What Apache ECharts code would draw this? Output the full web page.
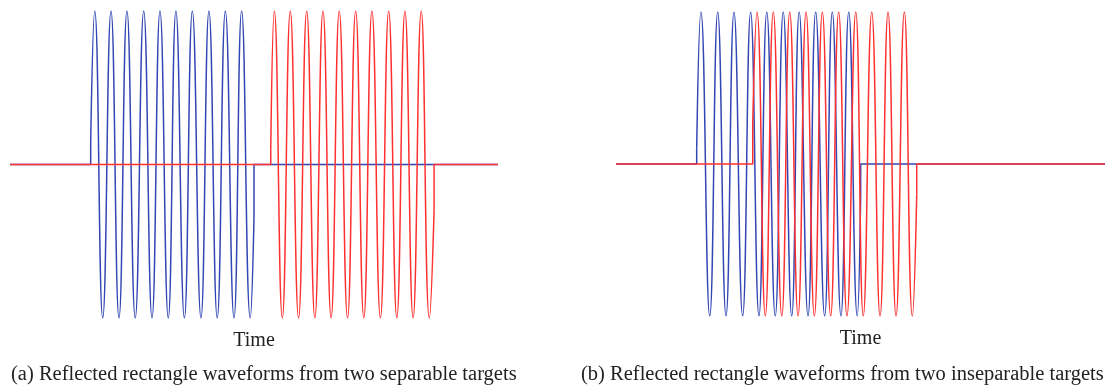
<!DOCTYPE html>
<html>
<head>
<meta charset="utf-8">
<script src="https://cdn.jsdelivr.net/npm/echarts@6/dist/echarts.min.js"></script>
<style>
  html, body { margin: 0; padding: 0; background: #ffffff; }
  #chart { width: 1108px; height: 387px; }
</style>
</head>
<body>
<div id="chart"></div>
<script>
// Time axis range (arbitrary units, ~1 unit per carrier period)
const timeRange = [0, 30];
const axisName = 'Time';
const captionA = '(a) Reflected rectangle waveforms from two separable targets';
const captionB = '(b) Reflected rectangle waveforms from two inseparable targets';

// Panel (a): extremes of each burst [time, amplitude]
const blueBurstA = [[4.96,0.14],[5.21,1],[5.70,-1],[6.21,1],[6.70,-1],[7.19,1],[7.70,-1],[8.22,1],[8.73,-1],[9.22,1],[9.73,-1],[10.20,1],[10.72,-1],[11.21,1],[11.74,-1],[12.23,1],[12.74,-1],[13.24,1],[13.77,-1],[14.24,1],[14.77,-1],[15.00,-0.35]];
const redBurstA = [[16.03,0.10],[16.25,1],[16.74,-1],[17.23,1],[17.74,-1],[18.24,1],[18.74,-1],[19.24,1],[19.74,-1],[20.24,1],[20.75,-1],[21.25,1],[21.75,-1],[22.25,1],[22.77,-1],[23.28,1],[23.78,-1],[24.28,1],[24.78,-1],[25.28,1],[25.78,-1],[26.07,-0.30]];

// Panel (b)
const blueBurstB = [[4.95,0.10],[5.21,1],[5.75,-1],[6.24,1],[6.75,-1],[7.24,1],[7.77,-1],[8.26,1],[8.77,-1],[9.25,1],[9.77,-1],[10.26,1],[10.78,-1],[11.24,1],[11.78,-1],[12.25,1],[12.80,-1],[13.27,1],[13.80,-1],[14.28,1],[14.80,-1],[15.01,-0.20]];
const redBurstB = [[8.39,0.27],[8.65,1],[9.16,-1],[9.65,1],[10.17,-1],[10.66,1],[11.17,-1],[11.66,1],[12.17,-1],[12.66,1],[13.17,-1],[13.66,1],[14.17,-1],[14.71,1],[15.17,-1],[15.69,1],[16.20,-1],[16.69,1],[17.18,-1],[17.69,1],[18.18,-1],[18.45,-0.20]];

const BLUE = '#3347b3';
const RED = '#ff3030';
const LW = 1.5;

function baseline(burst) {
  const s = burst[0], e = burst[burst.length - 1];
  return [[timeRange[0], 0], [s[0], 0], [s[0], s[1]], null, [e[0], e[1]], [e[0], 0], [timeRange[1], 0]].map(p => p === null ? '-' : p);
}

function makeSeries(burst, color, idx, z) {
  return [
    { type: 'line', xAxisIndex: idx, yAxisIndex: idx, data: baseline(burst), showSymbol: false, smooth: false,
      connectNulls: false, lineStyle: { color: color, width: LW }, itemStyle: { color: color }, z: z, silent: true },
    { type: 'line', xAxisIndex: idx, yAxisIndex: idx, data: burst, showSymbol: false, smooth: 0.5,
      lineStyle: { color: color, width: LW }, itemStyle: { color: color }, z: z, silent: true }
  ];
}

const hiddenX = (i) => ({
  type: 'value', gridIndex: i, min: timeRange[0], max: timeRange[1],
  name: axisName, nameLocation: 'middle', nameGap: 13,
  nameTextStyle: { fontFamily: 'Liberation Serif', fontSize: 20, color: '#222' },
  axisLine: { show: false, onZero: false }, axisTick: { show: false },
  axisLabel: { show: false }, splitLine: { show: false }
});
const hiddenY = (i) => ({
  type: 'value', gridIndex: i, min: -1, max: 1,
  axisLine: { show: false }, axisTick: { show: false },
  axisLabel: { show: false }, splitLine: { show: false }
});

const chart = echarts.init(document.getElementById('chart'));
chart.setOption({
  animation: false,
  backgroundColor: '#ffffff',
  grid: [
    { left: 10, width: 488, top: 11, height: 307 },
    { left: 616, width: 489, top: 12, height: 304 }
  ],
  xAxis: [hiddenX(0), hiddenX(1)],
  yAxis: [hiddenY(0), hiddenY(1)],
  series: [
    ...makeSeries(blueBurstA, BLUE, 0, 2),
    ...makeSeries(redBurstA, RED, 0, 3),
    ...makeSeries(blueBurstB, BLUE, 1, 2),
    ...makeSeries(redBurstB, RED, 1, 3)
  ],
  graphic: [
    { type: 'text', left: 11, top: 364, style: { text: captionA, font: '20.5px "Liberation Serif"', fill: '#222' } },
    { type: 'text', left: 581, top: 364, style: { text: captionB, font: '20.5px "Liberation Serif"', fill: '#222' } }
  ]
});
</script>
</body>
</html>
